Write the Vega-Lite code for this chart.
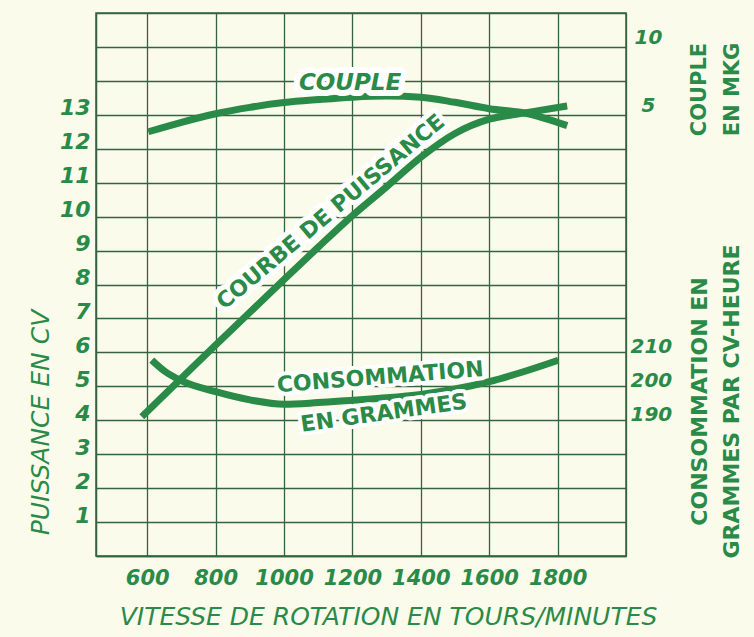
{
  "$schema": "https://vega.github.io/schema/vega-lite/v6.json",
  "width": 530,
  "height": 543,
  "autosize": {"type": "none"},
  "padding": {"left": 96, "top": 13, "right": 128, "bottom": 81},
  "background": "#fbfbec",
  "config": {
    "view": {"stroke": "#34633f", "strokeWidth": 1.5},
    "axis": {
      "labelFont": "DejaVu Sans",
      "titleFont": "DejaVu Sans",
      "labelColor": "#2a8a47",
      "titleColor": "#2a8a47",
      "gridColor": "#34633f",
      "gridWidth": 1.3,
      "gridOpacity": 1,
      "domainColor": "#34633f",
      "domainWidth": 1.5,
      "ticks": false
    }
  },
  "datasets": {
    "power": [
      {"rpm": 584, "cv": 4.1},
      {"rpm": 696, "cv": 5.2},
      {"rpm": 800, "cv": 6.22},
      {"rpm": 900, "cv": 7.18},
      {"rpm": 1000, "cv": 8.15},
      {"rpm": 1100, "cv": 9.1},
      {"rpm": 1200, "cv": 10.03},
      {"rpm": 1300, "cv": 10.88},
      {"rpm": 1400, "cv": 11.75},
      {"rpm": 1500, "cv": 12.45},
      {"rpm": 1600, "cv": 12.87},
      {"rpm": 1700, "cv": 13.05},
      {"rpm": 1828, "cv": 13.26}
    ],
    "couple": [
      {"rpm": 603, "mkg": 3.75},
      {"rpm": 700, "mkg": 4.45},
      {"rpm": 800, "mkg": 5.08},
      {"rpm": 900, "mkg": 5.55},
      {"rpm": 1000, "mkg": 5.9},
      {"rpm": 1100, "mkg": 6.12},
      {"rpm": 1200, "mkg": 6.3},
      {"rpm": 1300, "mkg": 6.38},
      {"rpm": 1400, "mkg": 6.3},
      {"rpm": 1500, "mkg": 5.92},
      {"rpm": 1600, "mkg": 5.45},
      {"rpm": 1710, "mkg": 5.1},
      {"rpm": 1828, "mkg": 4.2}
    ],
    "conso": [
      {"rpm": 613, "g": 207.7},
      {"rpm": 650, "g": 204.5},
      {"rpm": 696, "g": 201.8},
      {"rpm": 800, "g": 198.4},
      {"rpm": 900, "g": 196.0},
      {"rpm": 1000, "g": 194.7},
      {"rpm": 1100, "g": 195.2},
      {"rpm": 1200, "g": 195.9},
      {"rpm": 1300, "g": 196.6},
      {"rpm": 1400, "g": 197.6},
      {"rpm": 1500, "g": 199.2},
      {"rpm": 1600, "g": 201.4},
      {"rpm": 1700, "g": 204.3},
      {"rpm": 1802, "g": 207.7}
    ]
  },
  "encoding": {
    "x": {
      "field": "rpm",
      "type": "quantitative",
      "scale": {"domain": [450, 2000], "nice": false, "zero": false},
      "axis": {
        "values": [600, 800, 1000, 1200, 1400, 1600, 1800, 2000],
        "format": "d",
        "labelExpr": "datum.value == 2000 ? '' : datum.label",
        "labelFontSize": 21,
        "labelFontWeight": "bold",
        "labelFontStyle": "italic",
        "labelPadding": 11,
        "grid": true,
        "title": "VITESSE DE ROTATION EN TOURS/MINUTES",
        "titleFontSize": 25,
        "titleFontStyle": "italic",
        "titleFontWeight": "normal",
        "titleX": 292,
        "titleY": 60,
        "titleAlign": "center",
        "titleBaseline": "middle"
      }
    }
  },
  "layer": [
    {
      "data": {"name": "power"},
      "encoding": {
        "y": {
          "field": "cv",
          "type": "quantitative",
          "scale": {"domain": [0, 16], "nice": false, "zero": false},
          "axis": {
            "orient": "left",
            "values": [0, 1, 2, 3, 4, 5, 6, 7, 8, 9, 10, 11, 12, 13, 14, 15, 16],
            "labelExpr": "datum.value >= 1 && datum.value <= 13 ? datum.label : ''",
            "labelFontSize": 22,
            "labelFontWeight": "bold",
            "labelFontStyle": "italic",
            "labelBaseline": "alphabetic",
            "labelPadding": 6,
            "grid": true,
            "title": "PUISSANCE EN CV",
            "titleAngle": 270,
            "titleX": -56,
            "titleY": 409,
            "titleAlign": "center",
            "titleBaseline": "middle",
            "titleFontSize": 25,
            "titleFontStyle": "italic",
            "titleFontWeight": "normal"
          }
        }
      },
      "layer": [
        {"mark": {"type": "line", "interpolate": "monotone", "color": "#2a8a47", "strokeWidth": 7, "strokeCap": "butt"}},
        {
          "data": {"values": [{"rpm": 1136, "cv": 10.14, "label": "COURBE DE PUISSANCE"}]},
          "encoding": {"text": {"field": "label"}},
          "layer": [
            {"mark": {"type": "text", "font": "DejaVu Sans", "fontSize": 22, "fontWeight": "bold", "angle": -40, "fill": "#ffffff", "stroke": "#ffffff", "strokeWidth": 10, "strokeJoin": "round"}},
            {"mark": {"type": "text", "font": "DejaVu Sans", "fontSize": 22, "fontWeight": "bold", "angle": -40, "color": "#2a8a47"}}
          ]
        }
      ]
    },
    {
      "data": {"name": "couple"},
      "encoding": {
        "y": {
          "field": "mkg",
          "type": "quantitative",
          "scale": {"domain": [-27.5, 12.5], "nice": false, "zero": false},
          "axis": {
            "orient": "right",
            "values": [5, 10],
            "grid": false,
            "domain": false,
            "labelFontSize": 20,
            "labelFontWeight": "bold",
            "labelFontStyle": "italic",
            "labelBaseline": "alphabetic",
            "labelAlign": "center",
            "labelPadding": 22,
            "labelOffset": -3,
            "title": ["COUPLE", "EN MKG"],
            "titleAngle": 270,
            "titleX": 73,
            "titleY": 76,
            "titleAlign": "center",
            "titleBaseline": "middle",
            "titleLineHeight": 33,
            "titleFontSize": 21,
            "titleFontWeight": "bold"
          }
        }
      },
      "layer": [
        {"mark": {"type": "line", "interpolate": "monotone", "color": "#2a8a47", "strokeWidth": 7, "strokeCap": "butt"}},
        {
          "data": {"values": [{"rpm": 1193, "mkg": 7.35, "label": "COUPLE"}]},
          "encoding": {"text": {"field": "label"}},
          "layer": [
            {"mark": {"type": "text", "font": "DejaVu Sans", "fontSize": 23, "fontWeight": "bold", "fontStyle": "italic", "fill": "#ffffff", "stroke": "#ffffff", "strokeWidth": 12, "strokeJoin": "round"}},
            {"mark": {"type": "text", "font": "DejaVu Sans", "fontSize": 23, "fontWeight": "bold", "fontStyle": "italic", "color": "#2a8a47"}}
          ]
        }
      ]
    },
    {
      "data": {"name": "conso"},
      "encoding": {
        "y": {
          "field": "g",
          "type": "quantitative",
          "scale": {"domain": [150, 310], "nice": false, "zero": false},
          "axis": {
            "orient": "right",
            "values": [190, 200, 210],
            "grid": false,
            "domain": false,
            "labelFontSize": 20,
            "labelFontWeight": "bold",
            "labelFontStyle": "italic",
            "labelBaseline": "alphabetic",
            "labelAlign": "left",
            "labelPadding": 4,
            "title": ["CONSOMMATION EN", "GRAMMES PAR CV-HEURE"],
            "titleAngle": 270,
            "titleX": 73,
            "titleY": 388,
            "titleAlign": "center",
            "titleBaseline": "middle",
            "titleLineHeight": 32,
            "titleFontSize": 22,
            "titleFontWeight": "bold"
          }
        }
      },
      "layer": [
        {"mark": {"type": "line", "interpolate": "monotone", "color": "#2a8a47", "strokeWidth": 7, "strokeCap": "butt"}},
        {
          "data": {"values": [{"rpm": 1281, "g": 202.7, "label": "CONSOMMATION"}]},
          "encoding": {"text": {"field": "label"}},
          "layer": [
            {"mark": {"type": "text", "font": "DejaVu Sans", "fontSize": 22, "fontWeight": "bold", "angle": -4.5, "fill": "#ffffff", "stroke": "#ffffff", "strokeWidth": 8, "strokeJoin": "round"}},
            {"mark": {"type": "text", "font": "DejaVu Sans", "fontSize": 22, "fontWeight": "bold", "angle": -4.5, "color": "#2a8a47"}}
          ]
        },
        {
          "data": {"values": [{"rpm": 1292, "g": 192.1, "label": "EN GRAMMES"}]},
          "encoding": {"text": {"field": "label"}},
          "layer": [
            {"mark": {"type": "text", "font": "DejaVu Sans", "fontSize": 22, "fontWeight": "bold", "angle": -8, "fill": "#ffffff", "stroke": "#ffffff", "strokeWidth": 8, "strokeJoin": "round"}},
            {"mark": {"type": "text", "font": "DejaVu Sans", "fontSize": 22, "fontWeight": "bold", "angle": -8, "color": "#2a8a47"}}
          ]
        }
      ]
    }
  ],
  "resolve": {"scale": {"y": "independent"}, "axis": {"y": "independent"}}
}
